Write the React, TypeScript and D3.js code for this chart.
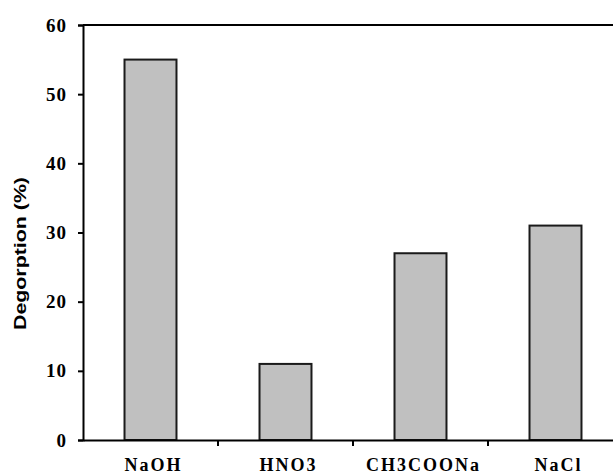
import { useEffect, useRef } from 'react'
import * as d3 from 'd3'

const categories = ['NaOH', 'HNO3', 'CH3COONa', 'NaCl']
const desorption = [55, 11, 27, 31]
const yTicks = [0, 10, 20, 30, 40, 50, 60]

export default function App() {
  const svgRef = useRef<SVGSVGElement>(null)

  useEffect(() => {
    if (!svgRef.current) return
    const svg = d3.select(svgRef.current)
    svg.selectAll('*').remove()

    const W = 613
    const H = 475
    const left = 83
    const top = 25
    const bottom = 440
    const plotRight = 623

    svg.attr('width', W).attr('height', H)
    svg.append('rect').attr('width', W).attr('height', H).attr('fill', '#ffffff')

    const x = d3.scaleBand().domain(categories).range([left, plotRight]).paddingInner(0).paddingOuter(0)
    const y = d3.scaleLinear().domain([0, 60]).range([bottom, top])

    const barW = x.bandwidth() * 0.385

    // bars
    svg.selectAll('.bar')
      .data(categories)
      .enter().append('rect')
      .attr('class', 'bar')
      .attr('x', (d) => x(d)! + x.bandwidth() / 2 - barW / 2)
      .attr('y', (d, i) => y(desorption[i]))
      .attr('width', barW)
      .attr('height', (d, i) => y(0) - y(desorption[i]))
      .attr('fill', '#c0c0c0')
      .attr('stroke', '#1a1a1a')
      .attr('stroke-width', 2)

    // top frame line
    svg.append('line')
      .attr('x1', left).attr('x2', plotRight)
      .attr('y1', top).attr('y2', top)
      .attr('stroke', '#000').attr('stroke-width', 2)

    // y axis
    const yAxis = svg.append('g')
      .attr('transform', `translate(${left},0)`)
      .call(d3.axisLeft(y).tickValues(yTicks).tickSize(5).tickPadding(11).tickFormat(d3.format('d')))
    yAxis.select('.domain').attr('stroke', '#000').attr('stroke-width', 2)
    yAxis.selectAll('.tick line').attr('stroke', '#000').attr('stroke-width', 2)
    yAxis.selectAll('text')
      .attr('fill', '#000')
      .style('font-family', '"Liberation Serif", "Times New Roman", serif')
      .style('font-weight', 'bold')
      .style('font-size', '19px')
      .style('letter-spacing', '1px')

    // x axis
    const xAxis = svg.append('g')
      .attr('transform', `translate(0,${bottom})`)
      .call(d3.axisBottom(x).tickSize(0).tickPadding(0))
    xAxis.select('.domain').attr('stroke', '#000').attr('stroke-width', 2)
    xAxis.selectAll('text')
      .attr('y', 0)
      .attr('dy', 0)
      .attr('transform', 'translate(3,31)')
      .attr('fill', '#000')
      .style('font-family', '"Liberation Serif", "Times New Roman", serif')
      .style('font-weight', 'bold')
      .style('font-size', '18px')
      .style('letter-spacing', '2px')

    // tick marks between categories
    svg.selectAll('.xtick')
      .data(categories.slice(1))
      .enter().append('line')
      .attr('class', 'xtick')
      .attr('x1', (d) => x(d)!)
      .attr('x2', (d) => x(d)!)
      .attr('y1', bottom)
      .attr('y2', bottom + 6)
      .attr('stroke', '#000')
      .attr('stroke-width', 2)

    // y label
    svg.append('text')
      .attr('transform', `translate(26,${(177 + 330) / 2}) rotate(-90)`)
      .attr('text-anchor', 'middle')
      .attr('textLength', 153)
      .attr('lengthAdjust', 'spacingAndGlyphs')
      .style('font-family', '"Liberation Sans", Arial, sans-serif')
      .style('font-weight', 'bold')
      .style('font-size', '17px')
      .attr('fill', '#000')
      .text('Degorption (%)')
  }, [])

  return (
    <svg
      ref={svgRef}
      style={{ position: 'absolute', left: 0, top: 0, display: 'block' }}
    />
  )
}
